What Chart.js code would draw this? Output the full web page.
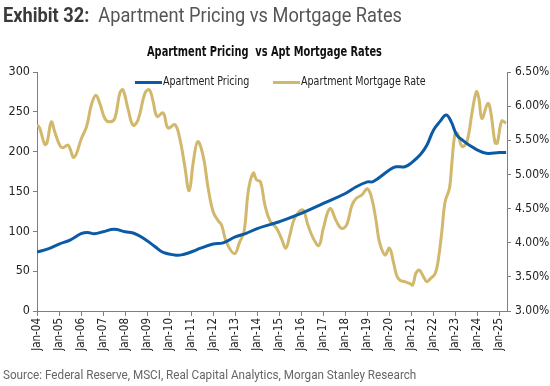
<!DOCTYPE html>
<html>
<head>
<meta charset="utf-8">
<script src="https://cdn.jsdelivr.net/npm/chart.js@4"></script>
<style>
  body { margin: 0; width: 550px; height: 386px; background: #fff; position: relative; overflow: hidden; font-family: Roboto, "Liberation Sans", sans-serif; }
  #exhibit { position: absolute; left: 3px; top: 3px; font-size: 20px; color: #555; white-space: nowrap; transform: scaleX(0.91); transform-origin: left top; }
  #exhibit b { color: #3a3a3a; font-weight: 700; }
  #subtitle { position: absolute; left: 147px; top: 43px; font-family: "DejaVu Sans Condensed", "Liberation Sans Narrow", sans-serif; font-weight: bold; font-size: 14px; color: #111; white-space: pre; transform: scaleX(0.78); transform-origin: left top; }
  .leg { position: absolute; top: 73px; font-family: "DejaVu Sans Condensed", "Liberation Sans Narrow", sans-serif; font-size: 12.5px; color: #222; white-space: nowrap; }
  .leg i { position: absolute; left: 0; top: 8px; width: 27px; height: 3px; }
  .leg span { position: absolute; left: 28px; top: 0; transform: scaleX(0.85); transform-origin: left top; }
  #source { position: absolute; left: 3px; top: 367px; font-size: 13px; color: #666; white-space: nowrap; transform: scaleX(0.9); transform-origin: left top; }
  #chart { position: absolute; left: 0; top: 0; }
</style>
</head>
<body>
<canvas id="chart" width="550" height="386"></canvas>
<div id="exhibit"><b>Exhibit 32:</b>&nbsp; Apartment Pricing vs Mortgage Rates</div>
<div id="subtitle">Apartment Pricing  vs Apt Mortgage Rates</div>
<div class="leg" style="left:135px"><i style="background:#0b5aa6"></i><span>Apartment Pricing</span></div>
<div class="leg" style="left:273px"><i style="background:#d1b86c"></i><span>Apartment Mortgage Rate</span></div>
<div id="source">Source: Federal Reserve, MSCI, Real Capital Analytics, Morgan Stanley Research</div>

<script>
// years are decimal (2004.0 = Jan-04)
const priceDates = [
  2004.0, 2004.5, 2005.0, 2005.5, 2006.0, 2006.3, 2006.6, 2007.0, 2007.5, 2008.0,
  2008.45, 2008.85, 2009.35, 2009.73, 2010.33, 2010.64, 2011.09, 2011.4, 2012.0, 2012.45,
  2013.0, 2013.5, 2014.0, 2014.58, 2015.0, 2016.0, 2017.0, 2018.0, 2018.5, 2019.0,
  2019.27, 2020.0, 2020.3, 2020.7, 2021.0, 2021.4, 2021.7, 2022.0, 2022.3, 2022.58,
  2022.8, 2023.06, 2023.36, 2023.67, 2024.0, 2024.4, 2025.0, 2025.3
]
const priceValues = [
  74, 78, 84, 89, 97, 98.5, 97, 99.5, 102.5, 99.5,
  97, 91, 81, 73.5, 70, 71, 75, 78.5, 84, 85.5,
  93, 97.5, 103.5, 108.5, 112, 122.5, 135, 147.5, 156, 162,
  162.5, 177, 181, 181, 186, 196, 208, 227, 238, 246,
  238, 221, 213.5, 207.5, 202, 198, 199, 199
]

const rateDates = [
  2004.0, 2004.12, 2004.35, 2004.45, 2004.65, 2004.8, 2005.03, 2005.18, 2005.41, 2005.68,
  2006.02, 2006.25, 2006.47, 2006.67, 2006.85, 2007.08, 2007.3, 2007.53, 2007.76, 2007.9,
  2008.14, 2008.36, 2008.59, 2008.9, 2009.1, 2009.27, 2009.45, 2009.73, 2009.95, 2010.26,
  2010.48, 2010.7, 2010.91, 2011.1, 2011.3, 2011.55, 2011.77, 2012.0, 2012.23, 2012.38,
  2012.6, 2012.97, 2013.2, 2013.4, 2013.6, 2013.82, 2013.97, 2014.15, 2014.35, 2014.58,
  2014.88, 2015.1, 2015.3, 2015.48, 2015.7, 2016.06, 2016.3, 2016.55, 2016.8, 2017.0,
  2017.3, 2017.6, 2017.83, 2018.06, 2018.3, 2018.5, 2018.75, 2019.0, 2019.2, 2019.4,
  2019.55, 2019.8, 2020.0, 2020.18, 2020.33, 2020.48, 2020.7, 2020.94, 2021.06, 2021.2,
  2021.36, 2021.55, 2021.7, 2021.85, 2022.08, 2022.23, 2022.38, 2022.53, 2022.73, 2022.83,
  2022.98, 2023.09, 2023.3, 2023.52, 2023.76, 2023.95, 2024.06, 2024.2, 2024.47, 2024.6,
  2024.8, 2024.9, 2025.1, 2025.3
]
const rateValues = [
  5.73, 5.68, 5.44, 5.46, 5.77, 5.63, 5.43, 5.39, 5.43, 5.25,
  5.53, 5.70, 6.02, 6.16, 6.04, 5.82, 5.77, 5.82, 6.19, 6.24,
  5.95, 5.72, 5.80, 6.19, 6.24, 6.07, 5.85, 5.90, 5.68, 5.73,
  5.53, 5.14, 4.76, 5.19, 5.48, 5.26, 4.80, 4.45, 4.32, 4.26,
  4.01, 3.84, 4.01, 4.16, 4.77, 5.02, 4.92, 4.89, 4.55, 4.32,
  4.21, 4.06, 3.92, 4.11, 4.36, 4.48, 4.26, 4.06, 3.96, 4.21,
  4.50, 4.31, 4.21, 4.26, 4.55, 4.65, 4.70, 4.79, 4.65, 4.31,
  4.01, 3.82, 3.92, 3.72, 3.52, 3.45, 3.43, 3.40, 3.38, 3.55,
  3.60, 3.50, 3.43, 3.47, 3.55, 3.77, 4.16, 4.60, 4.80, 5.14,
  5.60, 5.60, 5.41, 5.48, 5.92, 6.21, 6.12, 5.82, 6.04, 5.92,
  5.46, 5.46, 5.78, 5.75
]

const yearTicks = [2004, 2005, 2006, 2007, 2008, 2009, 2010, 2011, 2012, 2013, 2014,
  2015, 2016, 2017, 2018, 2019, 2020, 2021, 2022, 2023, 2024, 2025]
const leftTicks = [0, 50, 100, 150, 200, 250, 300]
const rightTicks = [3.0, 3.5, 4.0, 4.5, 5.0, 5.5, 6.0, 6.5]

const NARROW = '"DejaVu Sans Condensed", "Liberation Sans Narrow", sans-serif'
const AXIS = "#7f7f7f"

const toPoints = (xs, ys) => xs.map((x, i) => ({ x: x, y: ys[i] }))

new Chart(document.getElementById("chart"), {
  type: "line",
  data: {
    datasets: [
      {
        label: "Apartment Pricing",
        data: toPoints(priceDates, priceValues),
        borderColor: "#0b5aa6",
        borderWidth: 3,
        pointRadius: 0,
        tension: 0.4,
        yAxisID: "y"
      },
      {
        label: "Apartment Mortgage Rate",
        data: toPoints(rateDates, rateValues),
        borderColor: "#d1b86c",
        borderWidth: 3,
        pointRadius: 0,
        tension: 0.4,
        yAxisID: "y2"
      }
    ]
  },
  options: {
    responsive: false,
    animation: false,
    layout: { padding: { top: 72, left: 0, right: 0, bottom: 35 } },
    plugins: {
      legend: { display: false },
      title: { display: false },
      tooltip: { enabled: false }
    },
    scales: {
      x: {
        type: "linear",
        min: 2004,
        max: 2025.34,
        afterBuildTicks: s => { s.ticks = yearTicks.map(v => ({ value: v })) },
        afterFit: s => { s.height = 40 },
        grid: { drawOnChartArea: false, color: AXIS, tickLength: 5 },
        border: { color: AXIS, width: 1 },
        ticks: {
          autoSkip: false,
          minRotation: 90,
          maxRotation: 90,
          padding: 2,
          color: "#222",
          font: { family: NARROW, size: 11.5 },
          callback: v => "Jan-" + String(v).slice(2)
        }
      },
      y: {
        position: "left",
        min: 0,
        max: 300,
        afterBuildTicks: s => { s.ticks = leftTicks.map(v => ({ value: v })) },
        afterFit: s => { s.width = 37 },
        grid: { drawOnChartArea: false, color: AXIS, tickLength: 4 },
        border: { color: AXIS, width: 1 },
        ticks: { color: "#222", padding: 3, font: { family: NARROW, size: 12.5 } }
      },
      y2: {
        position: "right",
        min: 3,
        max: 6.5,
        afterBuildTicks: s => { s.ticks = rightTicks.map(v => ({ value: v })) },
        afterFit: s => { s.width = 43 },
        grid: { drawOnChartArea: false, color: AXIS, tickLength: 4 },
        border: { color: AXIS, width: 1 },
        ticks: {
          color: "#222",
          padding: 4,
          font: { family: NARROW, size: 12 },
          callback: v => v.toFixed(2) + "%"
        }
      }
    }
  }
})
</script>
</body>
</html>
